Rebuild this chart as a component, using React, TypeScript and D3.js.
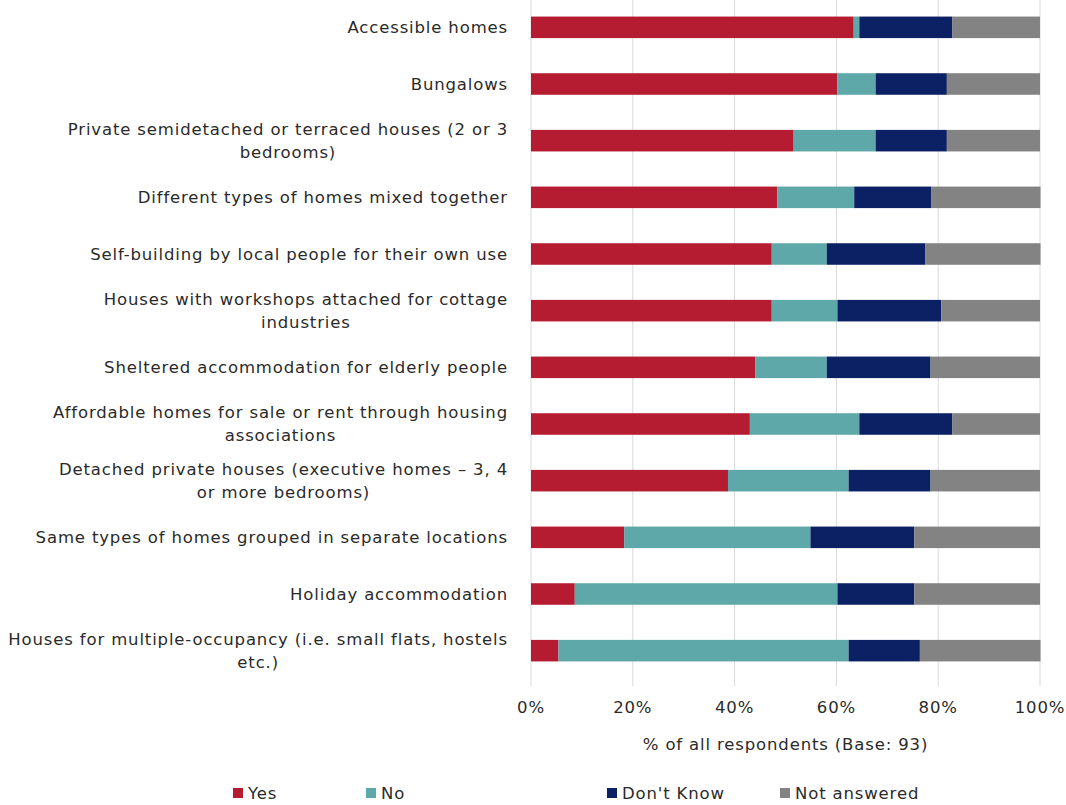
import React, { useEffect, useRef } from "react";
import * as d3 from "d3";

const categories: string[][] = [
  ["Accessible homes"],
  ["Bungalows"],
  ["Private semidetached or terraced houses (2 or 3", "bedrooms)"],
  ["Different types of homes mixed together"],
  ["Self-building by local people for their own use"],
  ["Houses with workshops attached for cottage", "industries"],
  ["Sheltered accommodation for elderly people"],
  ["Affordable homes for sale or rent through housing", "associations"],
  ["Detached private houses (executive homes \u2013 3, 4", "or more bedrooms)"],
  ["Same types of homes grouped in separate locations"],
  ["Holiday accommodation"],
  ["Houses for multiple-occupancy (i.e. small flats, hostels", "etc.)"],
];

const seriesNames = ["Yes", "No", "Don't Know", "Not answered"];
const yesValues = [63.4, 60.2, 51.6, 48.4, 47.3, 47.3, 44.1, 43.0, 38.7, 18.3, 8.6, 5.4];
const noValues = [1.1, 7.5, 16.1, 15.1, 10.8, 12.9, 14.0, 21.5, 23.7, 36.6, 51.6, 57.0];
const dontKnowValues = [18.3, 14.0, 14.0, 15.1, 19.4, 20.4, 20.4, 18.3, 16.1, 20.4, 15.1, 14.0];
const notAnsweredValues = [17.2, 18.3, 18.3, 21.5, 22.6, 19.4, 21.5, 17.2, 21.5, 24.7, 24.7, 23.7];
const tickValues = [0, 20, 40, 60, 80, 100];
const axisTitle = "% of all respondents (Base: 93)";

const colors = ["#B51C31", "#5FA8A9", "#0B2163", "#838383"];
const legendX = [233, 366, 607, 780];

const W = 1066;
const H = 805;
const FONT = "'DejaVu Sans', 'Liberation Sans', sans-serif";
const FS = 16.5;
const LS = 0.85;
const TEXT = "#2a2a2a";

export default function App() {
  const ref = useRef<SVGSVGElement>(null);

  useEffect(() => {
    const svg = d3.select(ref.current);
    svg.selectAll("*").remove();

    const keys = categories.map((c) => c.join(" "));
    const rows = keys.map((k, i) => ({
      key: k,
      Yes: yesValues[i],
      No: noValues[i],
      "Don't Know": dontKnowValues[i],
      "Not answered": notAnsweredValues[i],
    }));

    const x = d3.scaleLinear().domain([0, 100]).range([531, 1040]);
    const y = d3
      .scaleBand<string>()
      .domain(keys)
      .range([-1, 679])
      .paddingInner(0.62)
      .paddingOuter(0.31);

    svg
      .append("g")
      .selectAll("line")
      .data(tickValues)
      .join("line")
      .attr("x1", (d) => x(d))
      .attr("x2", (d) => x(d))
      .attr("y1", 0)
      .attr("y2", 686)
      .attr("stroke", "#D9D9D9")
      .attr("stroke-width", 1);

    const stack = d3.stack<any>().keys(seriesNames);
    const stacked = stack(rows);

    svg
      .append("g")
      .selectAll("g")
      .data(stacked)
      .join("g")
      .attr("fill", (_d, i) => colors[i])
      .selectAll("rect")
      .data((d) => d)
      .join("rect")
      .attr("x", (d) => x(d[0]))
      .attr("width", (d) => Math.max(0, x(d[1]) - x(d[0])))
      .attr("y", (d) => y(d.data.key)!)
      .attr("height", y.bandwidth());

    const labelG = svg
      .append("g")
      .attr("font-family", FONT)
      .attr("font-size", FS)
      .attr("letter-spacing", LS)
      .attr("fill", TEXT);
    categories.forEach((lines, i) => {
      const cy = y(keys[i])! + y.bandwidth() / 2;
      const lh = 23;
      const top = cy - ((lines.length - 1) * lh) / 2;
      const first = labelG
        .append("text")
        .attr("x", 508)
        .attr("y", top)
        .attr("dy", "0.35em")
        .attr("text-anchor", "end")
        .text(lines[0]);
      if (lines.length > 1) {
        const w = (first.node() as SVGTextElement).getComputedTextLength();
        const center = 508 - w / 2;
        for (let j = 1; j < lines.length; j++) {
          labelG
            .append("text")
            .attr("x", center)
            .attr("y", top + j * lh)
            .attr("dy", "0.35em")
            .attr("text-anchor", "middle")
            .text(lines[j]);
        }
      }
    });

    svg
      .append("g")
      .attr("font-family", FONT)
      .attr("font-size", FS)
      .attr("letter-spacing", LS)
      .attr("fill", TEXT)
      .selectAll("text")
      .data(tickValues)
      .join("text")
      .attr("x", (d) => x(d))
      .attr("y", 707)
      .attr("dy", "0.35em")
      .attr("text-anchor", "middle")
      .text((d) => d3.format(".0%")(d / 100));

    svg
      .append("text")
      .attr("x", (x(0) + x(100)) / 2)
      .attr("y", 744)
      .attr("dy", "0.35em")
      .attr("text-anchor", "middle")
      .attr("font-family", FONT)
      .attr("font-size", FS)
      .attr("letter-spacing", LS)
      .attr("fill", TEXT)
      .text(axisTitle);

    const lg = svg
      .append("g")
      .selectAll("g")
      .data(seriesNames)
      .join("g")
      .attr("transform", (_d, i) => `translate(${legendX[i]},793)`);
    lg.append("rect")
      .attr("x", 0)
      .attr("y", -5)
      .attr("width", 10)
      .attr("height", 10)
      .attr("fill", (_d, i) => colors[i]);
    lg.append("text")
      .attr("x", 15)
      .attr("y", 0)
      .attr("dy", "0.35em")
      .attr("font-family", FONT)
      .attr("font-size", FS)
      .attr("letter-spacing", LS)
      .attr("fill", TEXT)
      .text((d) => d);
  }, []);

  return (
    <svg
      ref={ref}
      width={W}
      height={H}
      style={{ position: "absolute", left: 0, top: 0, background: "#fff" }}
    />
  );
}
